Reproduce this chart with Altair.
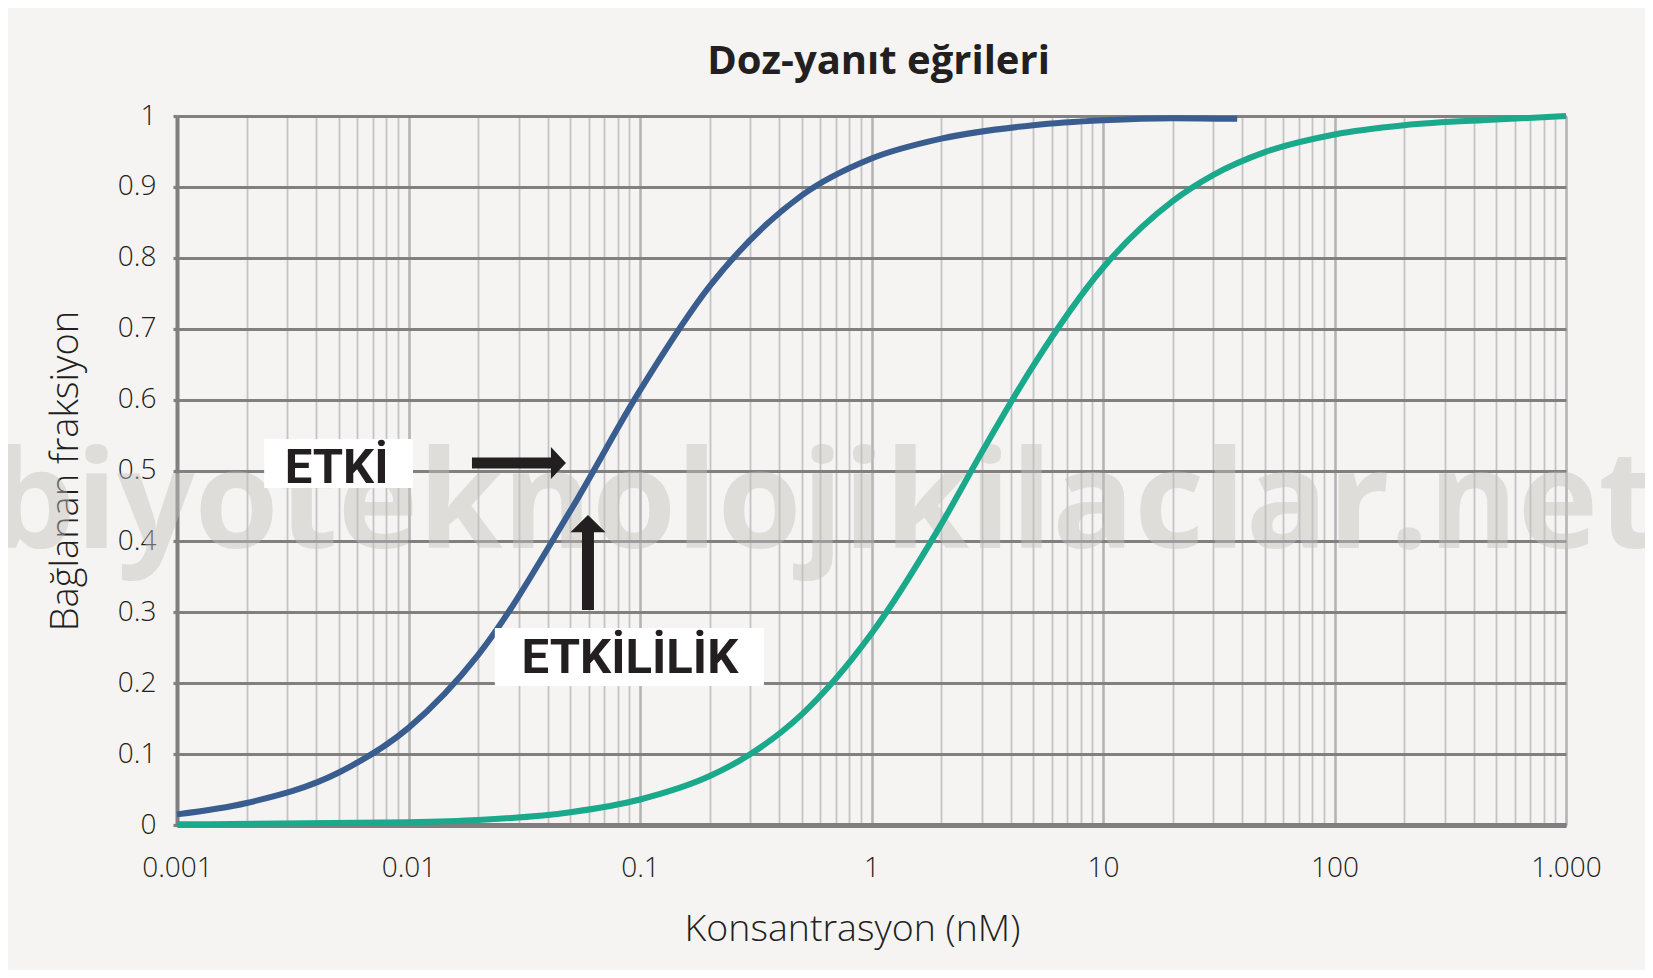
import altair as alt
import pandas as pd

# ---- data ----
blue_conc = [0.001, 0.002, 0.005, 0.01, 0.02, 0.05, 0.1, 0.2, 0.5, 1, 2, 5, 10, 20, 38]
blue_frac = [0.015, 0.031, 0.074, 0.137, 0.24, 0.443, 0.613, 0.76, 0.888, 0.94, 0.968, 0.987, 0.994, 0.997, 0.996]

green_conc = [0.001, 0.01, 0.02, 0.05, 0.1, 0.2, 0.3, 0.5, 1, 2, 3, 5, 10, 20, 30, 50, 100, 200, 500, 1000]
green_frac = [0.001, 0.004, 0.007, 0.018, 0.036, 0.069, 0.1, 0.156, 0.27, 0.424, 0.526, 0.648, 0.786, 0.88, 0.917, 0.949, 0.974, 0.987, 0.995, 1.0]

x_decades = [0.001, 0.01, 0.1, 1, 10, 100, 1000]
x_tick_labels = ["0.001", "0.01", "0.1", "1", "10", "100", "1.000"]
x_minor_mult = [1, 2, 3, 4, 5, 6, 7, 8, 9]
y_tick_values = [0, 0.1, 0.2, 0.3, 0.4, 0.5, 0.6, 0.7, 0.8, 0.9, 1]

title_text = "Doz-yanıt eğrileri"
x_title = "Konsantrasyon (nM)"
y_title = "Bağlanan fraksiyon"
watermark_text = "biyoteknolojikilaclar.net"

# annotation anchors (data coordinates)
label_texts = ["ETKİ", "ETKİLİLİK"]
label_x = [0.00489, 0.0905]
label_y = [0.4824, 0.2144]
box_x1 = [0.00238, 0.0236]
box_x2 = [0.01046, 0.343]
box_y1 = [0.4753, 0.1961]
box_y2 = [0.5444, 0.2779]
arrow_x = [0.0300, 0.0596]
arrow_y = [0.5106, 0.3702]
arrow_dir = ["right", "up"]
watermark_x = [0.62]
watermark_y = [0.39]

BLUE = "#3a5d8f"
GREEN = "#1aa98b"
BG = "#f5f4f2"
DARK = "#231f20"

grid_values = [d * m for d in x_decades[:-1] for m in x_minor_mult] + [x_decades[-1]]

curves = pd.concat([
    pd.DataFrame({"conc": blue_conc, "frac": blue_frac, "series": "blue"}),
    pd.DataFrame({"conc": green_conc, "frac": green_frac, "series": "green"}),
])

is_decade = "abs(log(datum.value)/LN10 - round(log(datum.value)/LN10)) < 1e-6"
labels_js = "[" + ",".join("'" + s + "'" for s in x_tick_labels) + "]"
label_expr = f"{is_decade} ? {labels_js}[round(log(datum.value)/LN10)+3] : ''"

x_scale = alt.Scale(type="log", domain=[x_decades[0], x_decades[-1]], nice=False)
y_scale = alt.Scale(domain=[0, 1], nice=False, zero=True)

AX_FONT = "Open Sans"

x_axis = alt.Axis(
    values=grid_values,
    labelExpr=label_expr,
    title=x_title,
    grid=True,
    gridColor={"condition": {"test": is_decade, "value": "#b4b4b6"}, "value": "#c4c4c6"},
    gridWidth={"condition": {"test": is_decade, "value": 2.6}, "value": 1.8},
    ticks=False,
    domain=True,
    domainColor="#7f7f80",
    domainWidth=5,
    labelFont=AX_FONT,
    labelFontSize=28,
    labelFontWeight=300,
    labelColor=DARK,
    labelPadding=29,
    labelBaseline="top",
    labelFlush=False,
    labelOverlap=False,
    titleFont=AX_FONT,
    titleFontSize=37.5,
    titleFontWeight=300,
    titleColor=DARK,
    titleX=675,
    titleY=115,
    titleAlign="center",
    titleBaseline="alphabetic",
)

y_axis = alt.Axis(
    values=y_tick_values,
    format="~g",
    title=y_title,
    grid=True,
    gridColor="#808081",
    gridWidth=3.2,
    ticks=True,
    tickSize=4,
    tickWidth=3.2,
    tickColor="#808081",
    domain=True,
    domainColor="#7f7f80",
    domainWidth=4,
    labelFont=AX_FONT,
    labelFontSize=28,
    labelFontWeight=300,
    labelColor=DARK,
    labelPadding=17,
    labelBaseline="middle",
    labelFlush=False,
    titleFont=AX_FONT,
    titleFontSize=38,
    titleFontWeight=300,
    titleColor=DARK,
    titleAngle=270,
    titleX=-100,
    titleY=354.5,
    titleAlign="center",
    titleBaseline="alphabetic",
)

X = alt.X("conc:Q", scale=x_scale, axis=x_axis)
Y = alt.Y("frac:Q", scale=y_scale, axis=y_axis)

wm = alt.Chart(pd.DataFrame({"conc": watermark_x, "frac": watermark_y, "t": [watermark_text]})).mark_text(
    font="Open Sans", fontWeight="bold", fontSize=136, color="#c4c2bf", opacity=0.45,
    align="center", baseline="alphabetic",
).encode(x=X, y=Y, text="t:N")

lines = alt.Chart(curves).mark_line(strokeWidth=6, interpolate="monotone", strokeCap="butt").encode(
    x=X, y=Y,
    color=alt.Color("series:N", scale=alt.Scale(domain=["blue", "green"], range=[BLUE, GREEN]), legend=None),
    detail="series:N",
)

boxes = alt.Chart(pd.DataFrame({"conc": box_x1, "conc2": box_x2, "frac": box_y1, "frac2": box_y2})).mark_rect(
    color="white", opacity=1
).encode(x=X, x2="conc2:Q", y=Y, y2="frac2:Q")

labels = alt.Chart(pd.DataFrame({"conc": label_x, "frac": label_y, "t": label_texts})).mark_text(
    font="Roboto", fontWeight="bold", fontSize=49, color=DARK, align="center", baseline="alphabetic"
).encode(x=X, y=Y, text="t:N")

right_arrow = "M-1,-0.117L0.68,-0.117L0.68,-0.34L1,0L0.68,0.34L0.68,0.117L-1,0.117Z"
up_arrow = "M-0.126,1L-0.126,-0.64L-0.37,-0.64L0,-1L0.37,-0.64L0.126,-0.64L0.126,1Z"

arr_df = pd.DataFrame({"conc": arrow_x, "frac": arrow_y, "dir": arrow_dir})
arrow_r = alt.Chart(arr_df[arr_df["dir"] == "right"]).mark_point(
    shape=right_arrow, size=94 * 94, filled=True, color=DARK, opacity=1, strokeWidth=0
).encode(x=X, y=Y)
arrow_u = alt.Chart(arr_df[arr_df["dir"] == "up"]).mark_point(
    shape=up_arrow, size=95 * 95, filled=True, color=DARK, opacity=1, strokeWidth=0
).encode(x=X, y=Y)

chart = alt.layer(wm, lines, boxes, labels, arrow_r, arrow_u).properties(
    width=1389,
    height=709,
    padding={"left": 169, "top": 108, "right": 79, "bottom": 145},
    autosize=alt.AutoSizeParams(type="none"),
    background=BG,
    title=alt.TitleParams(
        text=title_text, font="Open Sans", fontSize=40, fontWeight="bold", color=DARK,
        anchor="middle", dx=7, dy=38, offset=26, baseline="alphabetic",
    ),
).configure_view(stroke=None)

chart.save("out.html", embed_options={"renderer": "svg", "actions": False})
